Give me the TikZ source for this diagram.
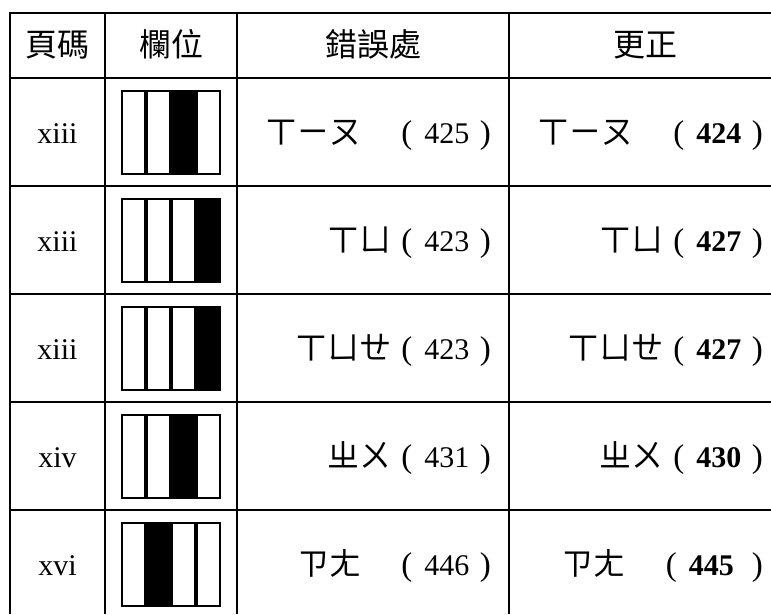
\documentclass[tikz,border=0pt]{standalone}
\usepackage{fontspec}
\setmainfont{Liberation Serif}
\newfontfamily\cjk{Noto Sans CJK TC}
\newcommand{\zy}[1]{{\cjk\fontsize{32}{34}\selectfont #1}}
\newcommand{\paren}[1]{{\fontsize{33}{35}\selectfont(}\hspace{0.4em}#1\hspace{0.35em}{\fontsize{33}{35}\selectfont)}}

\begin{document}
\begin{tikzpicture}[x=1pt,y=-1pt,
  rule/.style={line width=1.8pt},
  bar/.style={draw, line width=2pt},
  cell/.style={inner sep=0pt, font=\fontsize{30}{32}\selectfont},
  head/.style={inner sep=0pt, anchor=base, font=\cjk\fontsize{32}{34}\selectfont}]
\useasboundingbox (0,0) rectangle (771,614);

% Table rules
\foreach \y in {13,78,186,294,402,510}
  \draw[rule] (9.1,\y) -- (771,\y);
\foreach \x in {10,105,237,509}
  \draw[rule] (\x,12.1) -- (\x,614);

% Header row
\node[head] (hpage) at (57.5,56) {頁碼};
\node[head] (hcol) at (171,56) {欄位};
\node[head] (herr) at (373,56) {錯誤處};
\node[head] (hfix) at (645,56) {更正};

% Body rows: page / black bar / zhuyin / gap / wrong / right
\foreach \r/\pg/\blk/\zhu/\gap/\old/\new in {
    1/xiii/3/ㄒㄧㄡ/40/425/424,
    2/xiii/4/ㄒㄩ/10/423/427,
    3/xiii/4/ㄒㄩㄝ/10/423/427,
    4/xiv/3/ㄓㄨ/10/431/430,
    5/xvi/2/ㄗㄤ/40/446/445
} {
    \pgfmathsetmacro\yc{132+108*(\r-1)}
    \node[cell, anchor=base] (pg\r) at (57.5,\yc+11) {\pg};
    % column marker
    \foreach \i in {1,...,4} {
        \ifnum\i=\blk\def\bfill{black}\else\def\bfill{white}\fi
        \draw[bar, fill=\bfill] (97+25*\i,\yc-41.5) rectangle ++(23,83);
    }
    \node[cell, anchor=base east] (err\r) at (491,\yc+11) {\zy{\zhu}\hspace{\gap pt}\paren{\old}};
    \node[cell, anchor=base east] (fix\r) at (763,\yc+11) {\zy{\zhu}\hspace{\gap pt}\paren{\textbf{\new}}};
}
\end{tikzpicture}
\end{document}
